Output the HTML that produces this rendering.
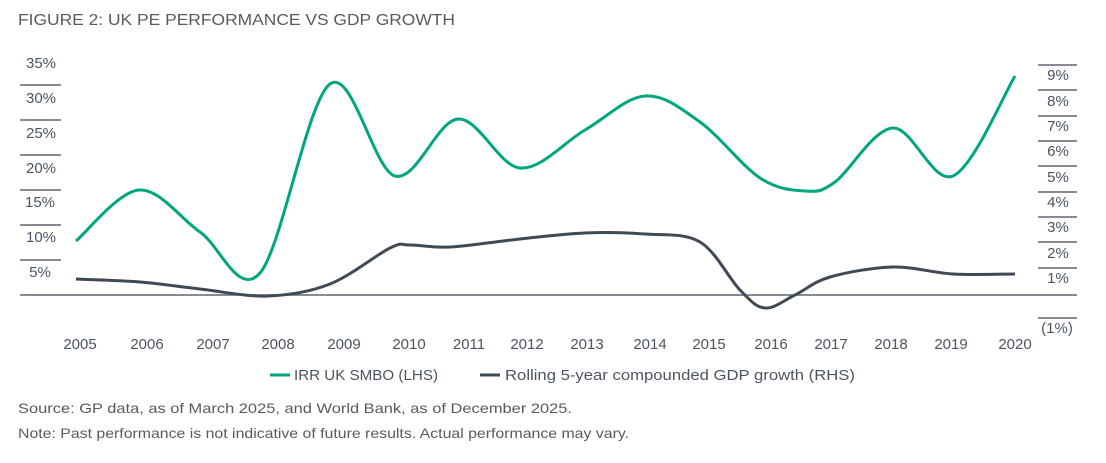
<!DOCTYPE html>
<html><head><meta charset="utf-8"><style>
body{margin:0;width:1106px;height:458px;background:#fff;font-family:"Liberation Sans",sans-serif;overflow:hidden}
svg text{font-family:"Liberation Sans",sans-serif;fill:#4a5561}
</style></head><body>
<svg width="1106" height="458" xmlns="http://www.w3.org/2000/svg">
<text x="18" y="25" font-size="16" textLength="437" lengthAdjust="spacingAndGlyphs" style="fill:#5a5a5a">FIGURE 2: UK PE PERFORMANCE VS GDP GROWTH</text>
<g stroke="#5d6670" stroke-width="1.5">
<line x1="20" y1="85" x2="61" y2="85"/><line x1="20" y1="120" x2="61" y2="120"/><line x1="20" y1="155" x2="61" y2="155"/>
<line x1="20" y1="190" x2="61" y2="190"/><line x1="20" y1="225" x2="61" y2="225"/><line x1="20" y1="260" x2="61" y2="260"/>
<line x1="20" y1="295" x2="1077" y2="295"/>
<line x1="1038" y1="65" x2="1077" y2="65"/><line x1="1038" y1="90" x2="1077" y2="90"/><line x1="1038" y1="116" x2="1077" y2="116"/>
<line x1="1038" y1="141" x2="1077" y2="141"/><line x1="1038" y1="166" x2="1077" y2="166"/><line x1="1038" y1="192" x2="1077" y2="192"/>
<line x1="1038" y1="217" x2="1077" y2="217"/><line x1="1038" y1="242" x2="1077" y2="242"/><line x1="1038" y1="268" x2="1077" y2="268"/>
<line x1="1038" y1="318" x2="1077" y2="318"/>
</g>
<g font-size="15" text-anchor="middle">
<text x="41" y="68">35%</text><text x="41" y="103">30%</text><text x="41" y="138">25%</text><text x="41" y="173">20%</text>
<text x="40" y="207">15%</text><text x="41" y="242">10%</text><text x="40" y="277">5%</text>
<text x="1058" y="80">9%</text><text x="1058" y="106">8%</text><text x="1058" y="131">7%</text><text x="1058" y="156">6%</text>
<text x="1058" y="182">5%</text><text x="1058" y="207">4%</text><text x="1058" y="232">3%</text><text x="1058" y="258">2%</text>
<text x="1058" y="283">1%</text><text x="1057" y="333">(1%)</text>
<text x="80" y="349">2005</text><text x="147" y="349">2006</text><text x="213" y="349">2007</text><text x="278" y="349">2008</text>
<text x="344" y="349">2009</text><text x="409" y="349">2010</text><text x="469" y="349">2011</text><text x="527" y="349">2012</text>
<text x="587" y="349">2013</text><text x="650" y="349">2014</text><text x="709" y="349">2015</text><text x="771" y="349">2016</text>
<text x="831" y="349">2017</text><text x="891" y="349">2018</text><text x="951" y="349">2019</text><text x="1015" y="349">2020</text>
</g>
<path id="g" fill="none" stroke="#00a67e" stroke-width="3"/>
<path id="d" fill="none" stroke="#3f4a56" stroke-width="3"/>
<line x1="270" y1="375" x2="290" y2="375" stroke="#00a67e" stroke-width="3"/>
<text x="294" y="380" font-size="15" textLength="144" lengthAdjust="spacingAndGlyphs">IRR UK SMBO (LHS)</text>
<line x1="480" y1="375" x2="500" y2="375" stroke="#3f4a56" stroke-width="3"/>
<text x="505" y="380" font-size="15" textLength="350" lengthAdjust="spacingAndGlyphs">Rolling 5-year compounded GDP growth (RHS)</text>
<text x="18" y="413" font-size="14" textLength="554" lengthAdjust="spacingAndGlyphs" style="fill:#5a5a5a">Source: GP data, as of March 2025, and World Bank, as of December 2025.</text>
<text x="18" y="438" font-size="14" textLength="611" lengthAdjust="spacingAndGlyphs" style="fill:#5a5a5a">Note: Past performance is not indicative of future results. Actual performance may vary.</text>
</svg>
<script>
function cr(p){let s="M"+p[0][0]+","+p[0][1];for(let i=0;i<p.length-1;i++){const a=p[i-1]||p[i],b=p[i],c=p[i+1],d=p[i+2]||c;
s+=" C"+(b[0]+(c[0]-a[0])/6)+","+(b[1]+(c[1]-a[1])/6)+" "+(c[0]-(d[0]-b[0])/6)+","+(c[1]-(d[1]-b[1])/6)+" "+c[0]+","+c[1];}return s;}
document.getElementById("g").setAttribute("d",cr([[76,241],[139,190],[200,232],[260,273],[330,84],[395,176],[458,119],[520,168],[585,130],[645,96],[700,122],[760,178],[805,191],[835,182],[893,128],[953,176],[1015,76]]));
document.getElementById("d").setAttribute("d",cr([[76,279],[140,282],[200,289],[268,296],[330,284],[390,248],[410,245],[450,247],[520,239],[585,233],[645,234],[700,242],[740,290],[765,308],[795,295],[830,277],[893,267],[953,274],[1015,274]]));
</script>
</body></html>
